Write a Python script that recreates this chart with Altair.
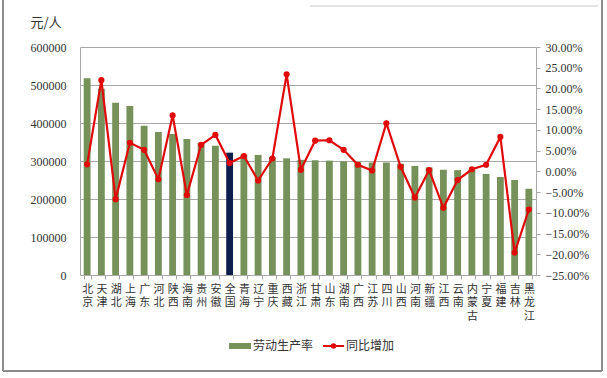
import altair as alt
import pandas as pd

regions = ["北京", "天津", "湖北", "上海", "广东", "河北", "陕西", "海南", "贵州", "安徽",
           "全国", "青海", "辽宁", "重庆", "西藏", "浙江", "甘肃", "山东", "湖南", "广西",
           "江苏", "四川", "山西", "河南", "新疆", "江西", "云南", "内蒙古", "宁夏", "福建",
           "吉林", "黑龙江"]
productivity = [518000, 490000, 453000, 445000, 393000, 376000, 371000, 358000, 348000, 340000,
                322000, 317000, 316000, 310000, 307000, 303000, 302000, 301000, 299000, 297000,
                296000, 296000, 293000, 287000, 283000, 277000, 276000, 277000, 266000, 258000,
                250000, 227000]
growth = [0.017, 0.220, -0.067, 0.069, 0.052, -0.019, 0.135, -0.057, 0.064, 0.088,
          0.020, 0.037, -0.022, 0.031, 0.234, 0.004, 0.074, 0.075, 0.052, 0.016,
          0.002, 0.116, 0.011, -0.063, 0.003, -0.088, -0.021, 0.005, 0.016, 0.083,
          -0.196, -0.092]
left_ticks = [0, 100000, 200000, 300000, 400000, 500000, 600000]
right_ticks = [-0.25, -0.20, -0.15, -0.10, -0.05, 0.0, 0.05, 0.10, 0.15, 0.20, 0.25, 0.30]
series_names = ["劳动生产率", "同比增加"]
unit_label = "元/人"

df = pd.DataFrame({"region": regions, "prod": productivity, "growth": growth})

GREEN = "#76925A"
NAVY = "#0F1D4C"
RED = "#E00A0A"
GRID = "#A8A8A8"
TXT = "#333333"
CJK = "Noto Sans CJK SC"
SERIF = "Liberation Serif"

x_enc = alt.X(
    "region:N", sort=regions,
    scale=alt.Scale(paddingInner=0.52, paddingOuter=0.26),
    axis=alt.Axis(title=None, labelAngle=0, labelExpr="split(datum.label, '')",
                  labelFont=CJK, labelFontSize=11, labelLineHeight=13.5, labelColor=TXT,
                  labelBaseline="top", labelPadding=4, labelOverlap=False,
                  tickBand="extent", tickSize=4, tickColor=GRID, domainColor=GRID),
)

bars = alt.Chart(df).mark_bar().encode(
    x=x_enc,
    y=alt.Y("prod:Q", scale=alt.Scale(domain=[0, 600000], nice=False, zero=True),
            axis=alt.Axis(values=left_ticks, format="d", title=unit_label, titleAngle=0,
                          titleX=-50, titleY=-25, titleAlign="left", titleBaseline="middle",
                          titleFont=CJK, titleFontSize=13, titleFontWeight="normal",
                          titleColor=TXT, labelFont=SERIF, labelFontSize=12, labelColor=TXT,
                          tickSize=0, labelPadding=14, domainColor=GRID,
                          grid=True, gridColor=GRID, gridWidth=1)),
    color=alt.condition("datum.region == '全国'", alt.value(NAVY), alt.value(GREEN)),
)

line = alt.Chart(df).mark_line(
    color=RED, strokeWidth=2.2,
    point=alt.OverlayMarkDef(color=RED, size=38, filled=True, opacity=1),
).encode(
    x=alt.X("region:N", sort=regions),
    y=alt.Y("growth:Q", scale=alt.Scale(domain=[-0.25, 0.30], nice=False, zero=False),
            axis=alt.Axis(orient="right", values=right_ticks, format=".2%", title=None,
                          grid=False, tickSize=4, tickColor=GRID, domainColor=GRID,
                          labelPadding=5, labelFont=SERIF, labelFontSize=12, labelColor=TXT)),
)

one = pd.DataFrame({"a": [0]})

leg_rect = alt.Chart(one).mark_rect(color=GREEN).encode(
    x=alt.value(149), x2=alt.value(171), y=alt.value(296), y2=alt.value(302))
leg_rule = alt.Chart(one).mark_rule(color=RED, strokeWidth=2).encode(
    x=alt.value(243), x2=alt.value(264), y=alt.value(299))
leg_dot = alt.Chart(one).mark_point(color=RED, filled=True, size=30, opacity=1).encode(
    x=alt.value(253.5), y=alt.value(299))
leg_t1 = alt.Chart(one).mark_text(align="left", baseline="middle", font=CJK, fontSize=12,
                                  color=TXT).encode(
    x=alt.value(173), y=alt.value(299), text=alt.value(series_names[0]))
leg_t2 = alt.Chart(one).mark_text(align="left", baseline="middle", font=CJK, fontSize=12,
                                  color=TXT).encode(
    x=alt.value(266), y=alt.value(299), text=alt.value(series_names[1]))

frame_l = alt.Chart(one).mark_rule(color="#8C8C8C", strokeWidth=2).encode(
    x=alt.value(-77), y=alt.value(-47), y2=alt.value(324))
frame_b = alt.Chart(one).mark_rule(color="#8C8C8C", strokeWidth=2).encode(
    x=alt.value(-77), x2=alt.value(522), y=alt.value(324))
frame_r = alt.Chart(one).mark_rule(color="#8C8C8C", strokeWidth=2).encode(
    x=alt.value(522), y=alt.value(-47), y2=alt.value(324))
frame_t = alt.Chart(one).mark_rule(color="#C8C8C8", strokeWidth=1).encode(
    x=alt.value(230), x2=alt.value(518), y=alt.value(-41))

main = alt.layer(bars, line).resolve_scale(y="independent")

chart = alt.layer(
    main, leg_rect, leg_rule, leg_dot, leg_t1, leg_t2, frame_l, frame_b, frame_r, frame_t
).properties(
    width=456, height=228,
    autosize=alt.AutoSizeParams(type="none"),
    padding={"left": 80, "top": 47, "right": 71, "bottom": 103},
    background="white",
).configure_view(stroke=None)

chart.save("out.html", embed_options={"renderer": "svg", "actions": False})
